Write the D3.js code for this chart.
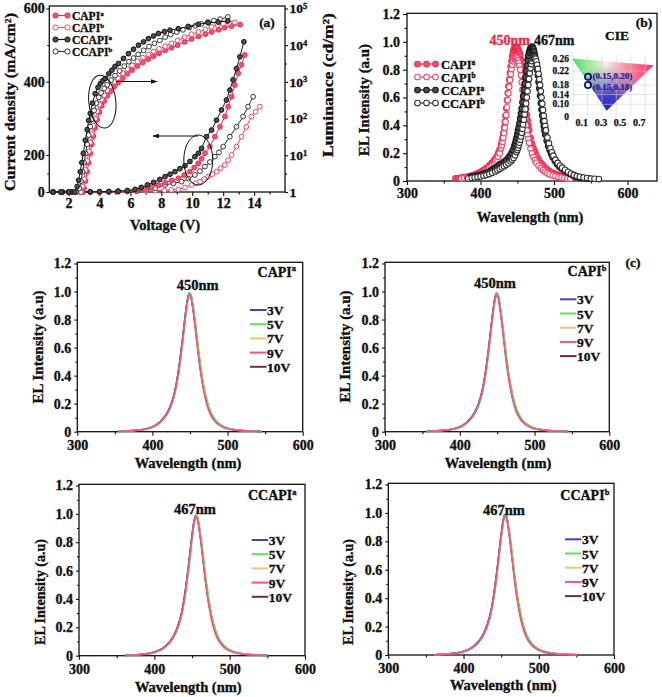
<!DOCTYPE html>
<html><head><meta charset="utf-8">
<script src="https://cdn.jsdelivr.net/npm/d3@7"></script>
<style>body{margin:0;background:#fff}svg{display:block}</style>
</head><body>
<script>
// ---------------- DATA ----------------
// Panel (a): current density (mA/cm2) vs voltage, [V, J]
const jCAPIa = [[1.0,0],[1.6,0],[2.2,0],[2.8,0],[3.4,0],[4.0,1],[4.6,2],[5.2,3],[5.8,5],[6.4,9],[6.9,16],[7.35,26],[7.8,38],[8.24,50],[8.67,62],[9.1,74],[9.48,92],[9.85,110],[10.12,132],[10.39,155],[10.6,180],[10.82,205],[11.14,223],[11.46,250],[11.79,277],[12.11,305],[12.32,332],[12.54,359],[12.75,391],[12.97,423],[13.18,446],[13.4,473]];
const jCAPIb = [[1.0,0],[1.6,0],[2.2,0],[2.8,0],[3.4,0],[4.0,0],[4.6,0],[5.2,1],[5.8,2],[6.4,3],[7.0,5],[7.6,7],[8.2,9],[8.65,11],[9.1,14],[9.53,24],[9.96,38],[10.23,47],[10.5,56],[10.77,70],[11.03,83],[11.3,96],[11.57,110],[11.84,128],[12.1,146],[12.32,172],[12.54,200],[12.86,223],[13.18,250],[13.5,277],[13.83,305],[14.1,318],[14.37,332]];
const jCCAPIa = [[1.0,0],[1.6,0],[2.2,0],[2.8,0],[3.4,1],[4.0,2],[4.6,3],[5.2,5],[5.8,8],[6.3,14],[6.7,25],[7.1,38],[7.5,52],[7.9,68],[8.24,83],[8.56,96],[8.88,110],[9.2,126],[9.53,142],[9.85,165],[10.17,191],[10.4,205],[10.6,218],[10.92,250],[11.25,268],[11.57,295],[11.89,323],[12.21,350],[12.43,377],[12.64,405],[12.86,436],[13.08,468],[13.34,509]];
const jCCAPIb = [[1.0,0],[1.6,0],[2.2,0],[2.8,0],[3.4,0],[4.0,0],[4.6,1],[5.2,2],[5.8,4],[6.4,7],[7.0,12],[7.6,20],[8.24,38],[8.78,47],[9.31,56],[9.74,72],[10.17,92],[10.5,113],[10.82,137],[11.14,162],[11.46,191],[11.73,207],[12.0,223],[12.43,250],[12.86,277],[13.29,305],[13.61,332],[13.94,359]];
// Panel (a): luminance, [V, log10(cd/m2)]
const lumCAPIa = [[1.0,0],[1.5,0],[2.0,0],[2.5,0],[2.9,0],[3.0,0.1],[3.1,0.3],[3.2,0.55],[3.3,0.8],[3.4,1.05],[3.5,1.3],[3.6,1.52],[3.72,1.75],[3.85,1.97],[4.0,2.18],[4.15,2.35],[4.3,2.48],[4.5,2.62],[4.7,2.74],[4.95,2.87],[5.2,2.98],[5.5,3.1],[5.8,3.22],[6.1,3.32],[6.45,3.43],[6.8,3.53],[7.15,3.62],[7.5,3.7],[7.85,3.78],[8.25,3.86],[8.65,3.93],[9.05,4.0],[9.5,4.09],[9.95,4.17],[10.4,4.24],[10.85,4.3],[11.25,4.36],[11.7,4.42],[12.1,4.48],[12.55,4.52],[13.1,4.56]];
const lumCAPIb = [[1.0,0],[1.5,0],[2.0,0],[2.5,0],[2.8,0],[2.9,0.15],[3.0,0.35],[3.1,0.6],[3.2,0.85],[3.3,1.1],[3.4,1.35],[3.5,1.58],[3.6,1.8],[3.72,2.0],[3.85,2.2],[4.0,2.38],[4.15,2.52],[4.3,2.64],[4.5,2.77],[4.7,2.88],[4.95,3.0],[5.2,3.1],[5.5,3.24],[5.8,3.35],[6.1,3.45],[6.45,3.56],[6.8,3.66],[7.15,3.75],[7.5,3.83],[7.85,3.9],[8.25,3.97],[8.65,4.05],[9.05,4.13],[9.5,4.22],[9.95,4.3],[10.4,4.36],[10.85,4.43],[11.25,4.5],[11.65,4.55],[12.0,4.59],[12.4,4.61],[12.75,4.62]];
const lumCCAPIa = [[1.0,0],[1.5,0],[2.0,0],[2.4,0],[2.55,0.15],[2.65,0.32],[2.75,0.55],[2.85,0.8],[2.95,1.05],[3.08,1.41],[3.2,1.7],[3.3,1.95],[3.4,2.14],[3.55,2.42],[3.72,2.68],[3.9,2.85],[4.05,2.95],[4.2,3.03],[4.37,3.09],[4.6,3.22],[4.8,3.32],[5.0,3.42],[5.23,3.5],[5.55,3.64],[5.87,3.77],[6.2,3.89],[6.52,4.0],[6.85,4.09],[7.16,4.18],[7.5,4.25],[7.81,4.32],[8.2,4.37],[8.56,4.41],[9.1,4.45],[9.74,4.51],[10.39,4.57],[11.03,4.61],[11.68,4.63],[12.3,4.66]];
const lumCCAPIb = [[1.0,0],[1.5,0],[2.0,0],[2.5,0],[2.7,0.1],[2.8,0.3],[2.9,0.55],[3.0,0.8],[3.1,1.05],[3.2,1.3],[3.3,1.55],[3.4,1.78],[3.5,1.98],[3.65,2.22],[3.8,2.42],[3.95,2.58],[4.1,2.7],[4.3,2.82],[4.5,2.92],[4.75,3.05],[5.0,3.17],[5.3,3.3],[5.6,3.43],[5.9,3.55],[6.2,3.65],[6.5,3.75],[6.85,3.86],[7.2,3.96],[7.55,4.05],[7.9,4.13],[8.25,4.22],[8.6,4.29],[9.0,4.36],[9.4,4.42],[9.8,4.48],[10.2,4.53],[10.6,4.58],[11.0,4.63],[11.4,4.67],[11.8,4.71],[12.3,4.77]];

// Panel (b): EL spectra, [wavelength nm, intensity]
const elCAPIa = [[366,0.019],[370,0.021],[374,0.024],[378,0.028],[382,0.032],[386,0.037],[390,0.043],[394,0.050],[397,0.058],[400,0.066],[403,0.075],[406,0.085],[409,0.097],[412,0.112],[415,0.128],[418,0.146],[420,0.160],[422,0.178],[424,0.200],[426,0.226],[428,0.262],[429,0.285],[430,0.312],[431,0.345],[432,0.385],[433,0.425],[434,0.468],[435,0.522],[436,0.580],[437,0.632],[438,0.680],[439,0.728],[440,0.775],[441,0.820],[442,0.860],[443,0.895],[444,0.925],[445,0.944],[446,0.955],[447,0.962],[448,0.965],[449,0.963],[450,0.958],[451,0.948],[452,0.935],[453,0.920],[454,0.900],[455,0.870],[456,0.830],[457,0.778],[458,0.720],[459,0.670],[460,0.620],[461,0.570],[462,0.520],[463,0.476],[464,0.435],[465,0.398],[466,0.365],[468,0.310],[470,0.268],[472,0.235],[474,0.210],[476,0.185],[479,0.155],[482,0.130],[485,0.112],[488,0.095],[491,0.082],[494,0.070],[498,0.058],[502,0.049],[506,0.042],[510,0.036],[514,0.031],[518,0.026],[522,0.022],[525,0.019]];
const elCAPIb = [[374,0.018],[378,0.021],[382,0.025],[386,0.029],[390,0.034],[394,0.040],[397,0.046],[400,0.053],[403,0.061],[406,0.070],[409,0.080],[412,0.093],[415,0.108],[418,0.125],[420,0.138],[422,0.155],[424,0.175],[426,0.200],[428,0.235],[429,0.256],[430,0.280],[431,0.310],[432,0.345],[433,0.383],[434,0.425],[435,0.475],[436,0.530],[437,0.580],[438,0.630],[439,0.678],[440,0.725],[441,0.768],[442,0.805],[443,0.835],[444,0.860],[445,0.876],[446,0.885],[447,0.889],[448,0.890],[449,0.887],[450,0.880],[451,0.867],[452,0.850],[453,0.828],[454,0.800],[455,0.760],[456,0.710],[457,0.655],[458,0.600],[459,0.545],[460,0.490],[461,0.443],[462,0.400],[463,0.363],[464,0.330],[465,0.301],[466,0.275],[468,0.232],[470,0.198],[472,0.172],[474,0.150],[476,0.132],[479,0.110],[482,0.092],[485,0.078],[488,0.066],[491,0.056],[494,0.048],[498,0.040],[502,0.034],[506,0.029],[510,0.025],[514,0.021],[518,0.018],[522,0.016]];
const elCCAPIa = [[386,0.030],[390,0.034],[394,0.038],[398,0.043],[402,0.049],[406,0.056],[410,0.064],[414,0.075],[417,0.085],[420,0.095],[423,0.106],[426,0.117],[429,0.125],[432,0.137],[435,0.150],[438,0.168],[440,0.182],[442,0.200],[444,0.222],[446,0.250],[447,0.268],[448,0.290],[449,0.312],[450,0.335],[451,0.360],[452,0.385],[453,0.415],[454,0.450],[455,0.485],[456,0.520],[457,0.565],[458,0.610],[459,0.655],[460,0.700],[461,0.745],[462,0.790],[463,0.830],[464,0.870],[465,0.900],[466,0.925],[467,0.942],[468,0.955],[469,0.962],[470,0.965],[471,0.960],[472,0.950],[473,0.930],[474,0.905],[475,0.875],[476,0.840],[477,0.800],[478,0.760],[479,0.712],[480,0.665],[481,0.612],[482,0.560],[483,0.513],[484,0.470],[485,0.430],[486,0.395],[487,0.363],[488,0.335],[490,0.290],[492,0.252],[494,0.222],[496,0.195],[498,0.172],[501,0.145],[504,0.122],[507,0.104],[510,0.090],[514,0.076],[518,0.063],[522,0.050],[526,0.039],[530,0.031],[534,0.026],[538,0.022],[543,0.019],[548,0.017]];
const elCCAPIb = [[383,0.018],[388,0.022],[392,0.025],[396,0.029],[400,0.033],[404,0.038],[408,0.044],[412,0.051],[416,0.060],[420,0.069],[423,0.078],[426,0.087],[429,0.097],[432,0.106],[435,0.116],[438,0.127],[441,0.140],[443,0.152],[445,0.166],[447,0.185],[449,0.208],[450,0.222],[451,0.238],[452,0.256],[453,0.275],[454,0.297],[455,0.320],[456,0.346],[457,0.375],[458,0.406],[459,0.440],[460,0.477],[461,0.515],[462,0.557],[463,0.600],[464,0.645],[465,0.690],[466,0.733],[467,0.775],[468,0.810],[469,0.840],[470,0.862],[471,0.880],[472,0.888],[473,0.890],[474,0.886],[475,0.878],[476,0.860],[477,0.835],[478,0.805],[479,0.770],[480,0.732],[481,0.690],[482,0.645],[483,0.600],[484,0.555],[485,0.510],[486,0.468],[487,0.430],[488,0.396],[489,0.365],[491,0.312],[493,0.270],[495,0.235],[497,0.206],[499,0.182],[502,0.153],[505,0.130],[508,0.111],[511,0.096],[515,0.080],[519,0.066],[523,0.054],[527,0.044],[531,0.036],[535,0.030],[540,0.025],[545,0.021],[550,0.018],[555,0.016],[561,0.014]];

// CIE inset
const cieGamut = [[0.0,0.263],[0.85,0.24],[0.36,0.048]];
const ciePoints = [[0.15,0.20,"(0.15,0.20)"],[0.15,0.18,"(0.15,0.18)"]];
const cieYTicks = [0,0.10,0.14,0.18,0.22,0.26];
const cieXTicks = [0.1,0.3,0.5,0.7];

// Panel (c): EL spectra at different voltages
const voltLabels = ["3V","5V","7V","9V","10V"];
const wlCAPI = [355,365,375,385,395,400,405,410,415,420,425,430,435,440,444,447,449,451,454,457,461,465,470,475,480,485,490,495,500,510,520,530,545];
const capi3V  = [0.002,0.005,0.009,0.014,0.026,0.036,0.050,0.071,0.099,0.140,0.200,0.295,0.450,0.660,0.845,0.955,0.990,0.975,0.880,0.755,0.570,0.410,0.262,0.163,0.105,0.070,0.048,0.034,0.024,0.013,0.008,0.005,0.002];
const capi5V  = [0.002,0.005,0.008,0.013,0.024,0.033,0.046,0.066,0.092,0.130,0.185,0.272,0.415,0.620,0.810,0.935,0.985,0.985,0.905,0.790,0.605,0.440,0.285,0.180,0.116,0.078,0.054,0.038,0.027,0.015,0.009,0.006,0.003];
const capi7V  = [0.002,0.005,0.009,0.013,0.025,0.035,0.048,0.069,0.096,0.135,0.193,0.284,0.432,0.640,0.828,0.945,0.985,0.978,0.890,0.770,0.585,0.425,0.272,0.170,0.110,0.074,0.051,0.036,0.025,0.014,0.008,0.005,0.002];
const capi9V  = [0.001,0.004,0.008,0.012,0.023,0.032,0.045,0.065,0.092,0.132,0.190,0.283,0.435,0.645,0.830,0.940,0.975,0.962,0.870,0.740,0.550,0.390,0.245,0.150,0.095,0.063,0.043,0.030,0.021,0.011,0.006,0.004,0.001];
const capi10V = [0.002,0.005,0.009,0.013,0.025,0.035,0.049,0.070,0.097,0.137,0.196,0.290,0.442,0.652,0.838,0.950,0.988,0.976,0.884,0.760,0.575,0.415,0.266,0.166,0.107,0.072,0.049,0.035,0.025,0.013,0.008,0.005,0.002];
const wlCCAPI = [361,371,381,391,401,406,411,416,421,426,431,436,441,446,450,453,455,457,460,463,467,471,476,481,486,491,496,501,506,516,526,536,551];
const ccapi3V  = [0.002,0.005,0.009,0.015,0.028,0.038,0.053,0.075,0.104,0.146,0.208,0.300,0.455,0.665,0.850,0.958,0.990,0.975,0.882,0.760,0.578,0.418,0.270,0.170,0.110,0.074,0.051,0.036,0.026,0.014,0.008,0.005,0.002];
const ccapi5V  = [0.002,0.005,0.008,0.014,0.026,0.035,0.049,0.070,0.097,0.136,0.193,0.278,0.420,0.625,0.815,0.938,0.985,0.986,0.908,0.795,0.612,0.448,0.292,0.186,0.121,0.082,0.057,0.040,0.029,0.016,0.010,0.006,0.003];
const ccapi7V  = [0.002,0.005,0.009,0.014,0.027,0.037,0.051,0.072,0.100,0.141,0.200,0.289,0.437,0.645,0.832,0.948,0.985,0.979,0.893,0.775,0.592,0.432,0.279,0.176,0.114,0.077,0.053,0.038,0.027,0.015,0.008,0.005,0.002];
const ccapi9V  = [0.001,0.004,0.008,0.013,0.025,0.034,0.048,0.068,0.096,0.137,0.196,0.288,0.440,0.650,0.835,0.943,0.975,0.963,0.873,0.745,0.556,0.396,0.250,0.155,0.099,0.066,0.045,0.032,0.022,0.012,0.006,0.004,0.001];
const ccapi10V = [0.002,0.005,0.009,0.014,0.027,0.037,0.052,0.073,0.101,0.142,0.202,0.295,0.447,0.657,0.842,0.953,0.988,0.977,0.886,0.765,0.582,0.422,0.272,0.172,0.111,0.075,0.051,0.037,0.026,0.014,0.008,0.005,0.002];

// tick labels
const aXTicks = [2,4,6,8,10,12,14];
const aJTicks = [0,200,400,600];
const aLumTicks = [0,1,2,3,4,5];
const bXTicks = [300,400,500,600];
const elYTicks = [0,0.2,0.4,0.6,0.8,1.0,1.2];
const cXTicks = [300,400,500,600];

// ---------------- DRAWING ----------------
const F = "'Liberation Serif','Times New Roman',serif";
const svg = d3.select('body').append('svg').attr('width',662).attr('height',697);
svg.append('rect').attr('width',662).attr('height',697).attr('fill','#fff');
const defs = svg.append('defs');

function T(g,x,y,parts,o={}){
  const fs=o.fs||13.5, col=o.fill||'#111';
  const t=g.append('text').attr('x',x).attr('y',y).attr('font-family',F).attr('font-weight','bold')
    .attr('font-size',fs).attr('fill',col).attr('stroke',col).attr('stroke-width',o.sw==null?0.35:o.sw)
    .attr('text-anchor',o.anchor||'start').attr('dominant-baseline','central');
  if(o.rot!=null) t.attr('transform',`rotate(${o.rot},${x},${y})`);
  if(o.len) t.attr('textLength',o.len).attr('lengthAdjust','spacingAndGlyphs');
  const arr = typeof parts==='string'?[[parts,false]]:parts;
  arr.forEach(([s,sup])=>{const ts=t.append('tspan').text(s); if(sup) ts.attr('font-size',fs*0.6).attr('dy',-fs*0.22);});
  return t;
}
function styleAx(s,fs){
  s.select('.domain').remove();
  s.selectAll('.tick line').attr('stroke','#111').attr('stroke-width',1.1);
  s.selectAll('.tick text').attr('font-family',F).attr('font-weight','bold').attr('font-size',fs)
    .attr('fill','#111').attr('stroke','#111').attr('stroke-width',0.35);
}
function axisSet(g, gen, pos, vals, fmt, size, pad, fs, minor, msize){
  const a=g.append('g').attr('transform',pos).call(gen().tickValues(vals).tickFormat(fmt).tickSize(size).tickPadding(pad).tickSizeOuter(0));
  styleAx(a,fs);
  if(minor){const m=g.append('g').attr('transform',pos).call(gen().tickValues(minor).tickFormat(()=> '').tickSize(msize).tickSizeOuter(0)); styleAx(m,fs);}
  return a;
}
function frame(g,x0,y0,x1,y1){
  g.append('rect').attr('x',x0).attr('y',y0).attr('width',x1-x0).attr('height',y1-y0)
   .attr('fill','none').attr('stroke','#111').attr('stroke-width',1.3);
}
const fmtEL = d=> d===0?'0':d3.format('.1f')(d);

// ===== Panel (a) =====
const gA = svg.append('g');
const A = {x0:49.3,x1:285,y0:6,y1:192};
const xA = d3.scaleLinear().domain([0.75,16]).range([A.x0,A.x1]);
const yJ = d3.scaleLinear().domain([0,200,400,600]).range([192,155,81.7,8.5]);
const yL = d3.scaleLinear().domain([0,5]).range([192,8.5]);
axisSet(gA,()=>d3.axisBottom(xA),`translate(0,${A.y1})`,aXTicks,d3.format('d'),4,2.5,14,[1,3,5,7,9,11,13,15],2.5);
axisSet(gA,()=>d3.axisLeft(yJ),`translate(${A.x0},0)`,aJTicks,d3.format('d'),3,1.5,14,[100,300,500],2);
const gR = axisSet(gA,()=>d3.axisRight(yL),`translate(${A.x1},0)`,aLumTicks,d=>String(d),3,1.5,13.5,[0.5,1.5,2.5,3.5,4.5],2);
gR.selectAll('.tick text').each(function(d){
  const t=d3.select(this); if(d===0){t.text('1');return;}
  t.text(''); t.append('tspan').text('10'); t.append('tspan').text(d).attr('font-size',8.5).attr('dy',-4.5);
});
frame(gA,A.x0,A.y0,A.x1,A.y1);

const styles = {
  CAPIa:{stroke:'#ef2a4d',fill:'#f5506e',line:'#ef2a4d'},
  CAPIb:{stroke:'#f2456a',fill:'#fff',line:'#f2456a'},
  CCAPIa:{stroke:'#151515',fill:'#4d4d4d',line:'#151515'},
  CCAPIb:{stroke:'#333',fill:'#fff',line:'#333'}
};
function series(g,data,x,y,st,r,sw){
  g.append('path').datum(data).attr('d',d3.line().x(d=>x(d[0])).y(d=>y(d[1])))
   .attr('fill','none').attr('stroke',st.line).attr('stroke-width',1);
  g.append('g').selectAll('circle').data(data).join('circle')
   .attr('cx',d=>x(d[0])).attr('cy',d=>y(d[1])).attr('r',r)
   .attr('fill',st.fill).attr('stroke',st.stroke).attr('stroke-width',sw);
}
series(gA,jCAPIb,xA,yJ,styles.CAPIb,2.4,1);
series(gA,jCCAPIb,xA,yJ,styles.CCAPIb,2.4,1);
series(gA,jCAPIa,xA,yJ,styles.CAPIa,2.4,1);
series(gA,jCCAPIa,xA,yJ,styles.CCAPIa,2.4,1);
series(gA,lumCAPIa,xA,yL,styles.CAPIa,2.4,1);
series(gA,lumCAPIb,xA,yL,styles.CAPIb,2.4,1);
series(gA,lumCCAPIb,xA,yL,styles.CCAPIb,2.4,1);
series(gA,lumCCAPIa,xA,yL,styles.CCAPIa,2.4,1);

// ellipses & arrows
defs.append('marker').attr('id','arr').attr('viewBox','0 0 10 10').attr('refX',9).attr('refY',5)
  .attr('markerWidth',7).attr('markerHeight',7).attr('orient','auto-start-reverse')
  .append('path').attr('d','M0,1.5 L10,5 L0,8.5 z').attr('fill','#111');
gA.append('ellipse').attr('cx',102.3).attr('cy',101.7).attr('rx',13.5).attr('ry',26.5)
  .attr('transform','rotate(-6,102.3,101.7)').attr('fill','none').attr('stroke','#111').attr('stroke-width',1);
gA.append('ellipse').attr('cx',198.3).attr('cy',160).attr('rx',14.5).attr('ry',25)
  .attr('fill','none').attr('stroke','#111').attr('stroke-width',1);
gA.append('line').attr('x1',116).attr('y1',81.5).attr('x2',157).attr('y2',81.5).attr('stroke','#111').attr('stroke-width',1).attr('marker-end','url(#arr)');
gA.append('line').attr('x1',198).attr('y1',136).attr('x2',153).attr('y2',136).attr('stroke','#111').attr('stroke-width',1).attr('marker-end','url(#arr)');

// legend (a)
const legA = [['CAPI','a','CAPIa',15.5],['CAPI','b','CAPIb',27.5],['CCAPI','a','CCAPIa',39.5],['CCAPI','b','CCAPIb',51.5]];
legA.forEach(([n,s,k,y])=>{
  const st=styles[k];
  gA.append('line').attr('x1',53).attr('x2',70).attr('y1',y).attr('y2',y).attr('stroke',st.line).attr('stroke-width',1.2);
  [55.5,67.5].forEach(cx=>gA.append('circle').attr('cx',cx).attr('cy',y).attr('r',2.6).attr('fill',st.fill).attr('stroke',st.stroke).attr('stroke-width',1));
  T(gA,72,y+0.5,[[n],[s,true]],{fs:11.5});
});
T(gA,267,22,'(a)',{fs:13.5,anchor:'middle'});
T(gA,10,102,'Current density (mA/cm²)',{fs:14.5,rot:-90,anchor:'middle',len:178});
T(gA,328,85,'Luminance (cd/m²)',{fs:14.5,rot:-90,anchor:'middle',len:144});
T(gA,165,225,'Voltage (V)',{fs:14.5,anchor:'middle'});

// ===== Panel (b) =====
const gB = svg.append('g');
const B = {x0:407,x1:657,y0:13.3,y1:181};
const xB = d3.scaleLinear().domain([300,640]).range([B.x0,B.x1]);
const yB = d3.scaleLinear().domain([0,1.2]).range([B.y1,14]);
axisSet(gB,()=>d3.axisBottom(xB),`translate(0,${B.y1})`,bXTicks,d3.format('d'),4,3,14,[350,450,550],2.5);
axisSet(gB,()=>d3.axisLeft(yB),`translate(${B.x0},0)`,elYTicks,fmtEL,4,3,14,[0.1,0.3,0.5,0.7,0.9,1.1],2.5);
frame(gB,B.x0,B.y0,B.x1,B.y1);
series(gB,elCAPIa,xB,yB,styles.CAPIa,2.8,1.1);
series(gB,elCAPIb,xB,yB,styles.CAPIb,2.8,1.1);
series(gB,elCCAPIa,xB,yB,styles.CCAPIa,2.8,1.1);
series(gB,elCCAPIb,xB,yB,styles.CCAPIb,2.8,1.1);
const legB = [['CAPI','a','CAPIa',64],['CAPI','b','CAPIb',77],['CCAPI','a','CCAPIa',90],['CCAPI','b','CCAPIb',103]];
legB.forEach(([n,s,k,y])=>{
  const st=styles[k];
  gB.append('line').attr('x1',415).attr('x2',438).attr('y1',y).attr('y2',y).attr('stroke',st.line).attr('stroke-width',1.2);
  [417.5,426.5,435.5].forEach(cx=>gB.append('circle').attr('cx',cx).attr('cy',y).attr('r',2.8).attr('fill',st.fill).attr('stroke',st.stroke).attr('stroke-width',1.1));
  T(gB,441,y+0.5,[[n],[s,true]],{fs:12.5});
});
T(gB,530,39.5,'450nm',{fs:14,anchor:'end',fill:'#f0284a'});
T(gB,534,39.5,'467nm',{fs:14,fill:'#151515'});
T(gB,644,22,'(b)',{fs:13.5,anchor:'middle'});
T(gB,617,35,'CIE',{fs:13.5,anchor:'middle'});
T(gB,363.5,100,'EL Intensity (a.u)',{fs:14.5,rot:-90,anchor:'middle',len:112});
T(gB,530,216.5,'Wavelength (nm)',{fs:14.5,anchor:'middle'});

// CIE inset
const gI = gB.append('g');
const xC = d3.scaleLinear().domain([0.1,0.7]).range([581.7,639.3]);
const yC = d3.scaleLinear().domain([0,0.10,0.14,0.18,0.20,0.22,0.26]).range([116.7,104.3,94.5,85,76.7,71,59.3]);
gI.append('rect').attr('x',572).attr('y',55).attr('width',83).attr('height',61).attr('fill','#fff');
const gH = defs.append('linearGradient').attr('id','gh').attr('gradientUnits','userSpaceOnUse')
  .attr('x1',xC(0)).attr('y1',0).attr('x2',xC(0.85)).attr('y2',0);
[['0%','#3be25a'],['20%','#9de99a'],['42%','#f4efe2'],['68%','#ff8aa2'],['100%','#ff2f66']].forEach(([o,c])=>gH.append('stop').attr('offset',o).attr('stop-color',c));
const gBl = defs.append('radialGradient').attr('id','gb').attr('gradientUnits','userSpaceOnUse')
  .attr('cx',xC(0.36)).attr('cy',yC(0.048)).attr('r',46);
[['0%','#2a22c8',1],['35%','#3a30c8',0.92],['65%','#6050c0',0.5],['100%','#7a6ac0',0]].forEach(([o,c,op])=>gBl.append('stop').attr('offset',o).attr('stop-color',c).attr('stop-opacity',op));
const tri = d3.line().x(d=>xC(d[0])).y(d=>yC(d[1])).curve(d3.curveLinearClosed);
gI.append('path').attr('d',tri(cieGamut)).attr('fill','url(#gh)');
gI.append('path').attr('d',tri(cieGamut)).attr('fill','url(#gb)');
[0.0,0.15,0.3,0.45,0.6,0.75].forEach(v=>gI.append('line').attr('x1',xC(v)+1).attr('x2',xC(v)+1).attr('y1',55).attr('y2',116).attr('stroke','#cfcfcf').attr('stroke-opacity',0.6).attr('stroke-width',0.9));
[0.10,0.14,0.18,0.22].forEach(v=>gI.append('line').attr('x1',572).attr('x2',655).attr('y1',yC(v)).attr('y2',yC(v)).attr('stroke','#cfcfcf').attr('stroke-opacity',0.6).attr('stroke-width',0.9));
cieYTicks.forEach(v=>T(gI,569,yC(v),v===0?'0':d3.format('.2f')(v),{fs:9.5,anchor:'end',sw:0.25}));
cieXTicks.forEach(v=>T(gI,xC(v),122,String(v),{fs:10,anchor:'middle',sw:0.25}));
ciePoints.forEach(([cx,cy,lab],i)=>{
  gI.append('circle').attr('cx',xC(cx)+1.5).attr('cy',yC(cy)).attr('r',3.1).attr('fill','none').attr('stroke','#12127a').attr('stroke-width',1.8);
  T(gI,xC(cx)+6,yC(cy)+(i===0?-0.5:2),lab,{fs:9,fill:'#1a1a8c',sw:0.2});
});

// ===== Panel (c) =====
const vColors = ['#4a3fc2','#5ee05e','#f2c27a','#ff4f86','#6e2a4e'];
const drawOrder = [4,2,0,1,3];
const cPlots = [
  {box:{x0:77.3,x1:302.7,y0:262.3,y1:431.7}, wl:wlCAPI, sets:[capi3V,capi5V,capi7V,capi9V,capi10V], name:['CAPI','a'], nameX:296, nameY:271.5,
   peak:'450nm', pk:[197.7,285], leg:{x:250,y:[310,324.2,338.4,352.6,366.8]}, ylab:[38,347], ylen:113, xlab:[188,463]},
  {box:{x0:385,x1:609.3,y0:262.3,y1:431.7}, wl:wlCAPI, sets:[capi3V,capi5V,capi7V,capi9V,capi10V], name:['CAPI','b'], nameX:606.5, nameY:271,
   peak:'450nm', pk:[495,282.7], leg:{x:560,y:[299.3,313.5,327.7,341.9,356.1]}, ylab:[345,346.5], ylen:112, xlab:[498,463]},
  {box:{x0:79,x1:305,y0:484.3,y1:655.7}, wl:wlCCAPI, sets:[ccapi3V,ccapi5V,ccapi7V,ccapi9V,ccapi10V], name:['CCAPI','a'], nameX:296.5, nameY:495,
   peak:'467nm', pk:[195,509.3], leg:{x:251.7,y:[540,554.2,568.4,582.6,596.8]}, ylab:[40,592], ylen:106, xlab:[188.3,687.3]},
  {box:{x0:388.3,x1:614,y0:483.3,y1:655}, wl:wlCCAPI, sets:[ccapi3V,ccapi5V,ccapi7V,ccapi9V,ccapi10V], name:['CCAPI','b'], nameX:609.3, nameY:495,
   peak:'467nm', pk:[504,510], leg:{x:565,y:[539.3,553.5,567.7,581.9,596.1]}, ylab:[348.3,592], ylen:106, xlab:[503.3,685]}
];
cPlots.forEach(p=>{
  const g=svg.append('g'); const b=p.box;
  const x=d3.scaleLinear().domain([300,600]).range([b.x0,b.x1]);
  const y=d3.scaleLinear().domain([0,1.2]).range([b.y1,b.y0+1.2]);
  axisSet(g,()=>d3.axisBottom(x),`translate(0,${b.y1})`,cXTicks,d3.format('d'),4,4,14,[350,450,550],2.5);
  axisSet(g,()=>d3.axisLeft(y),`translate(${b.x0},0)`,elYTicks,fmtEL,3,3,14,[0.1,0.3,0.5,0.7,0.9,1.1],2);
  frame(g,b.x0,b.y0,b.x1,b.y1);
  const line=d3.line().x(d=>x(d[0])).y(d=>y(d[1])).curve(d3.curveMonotoneX);
  drawOrder.forEach(i=>{
    const data=p.wl.map((w,k)=>[w,p.sets[i][k]]);
    g.append('path').datum(data).attr('d',line).attr('fill','none').attr('stroke',vColors[i]).attr('stroke-width',1.6);
  });
  voltLabels.forEach((v,i)=>{
    const yy=p.leg.y[i];
    g.append('line').attr('x1',p.leg.x).attr('x2',p.leg.x+16.5).attr('y1',yy).attr('y2',yy).attr('stroke',vColors[i]).attr('stroke-width',2);
    T(g,p.leg.x+17,yy,v,{fs:13.5});
  });
  T(g,p.nameX,p.nameY,[[p.name[0]],[p.name[1],true]],{fs:14,anchor:'end'});
  T(g,p.pk[0],p.pk[1],p.peak,{fs:14.5,anchor:'middle'});
  T(g,p.ylab[0],p.ylab[1],'EL Intensity (a.u)',{fs:14.5,rot:-90,anchor:'middle',len:p.ylen});
  T(g,p.xlab[0],p.xlab[1],'Wavelength (nm)',{fs:14.5,anchor:'middle'});
});
T(svg,633,261.7,'(c)',{fs:13.5,anchor:'middle'});
</script>
</body></html>
